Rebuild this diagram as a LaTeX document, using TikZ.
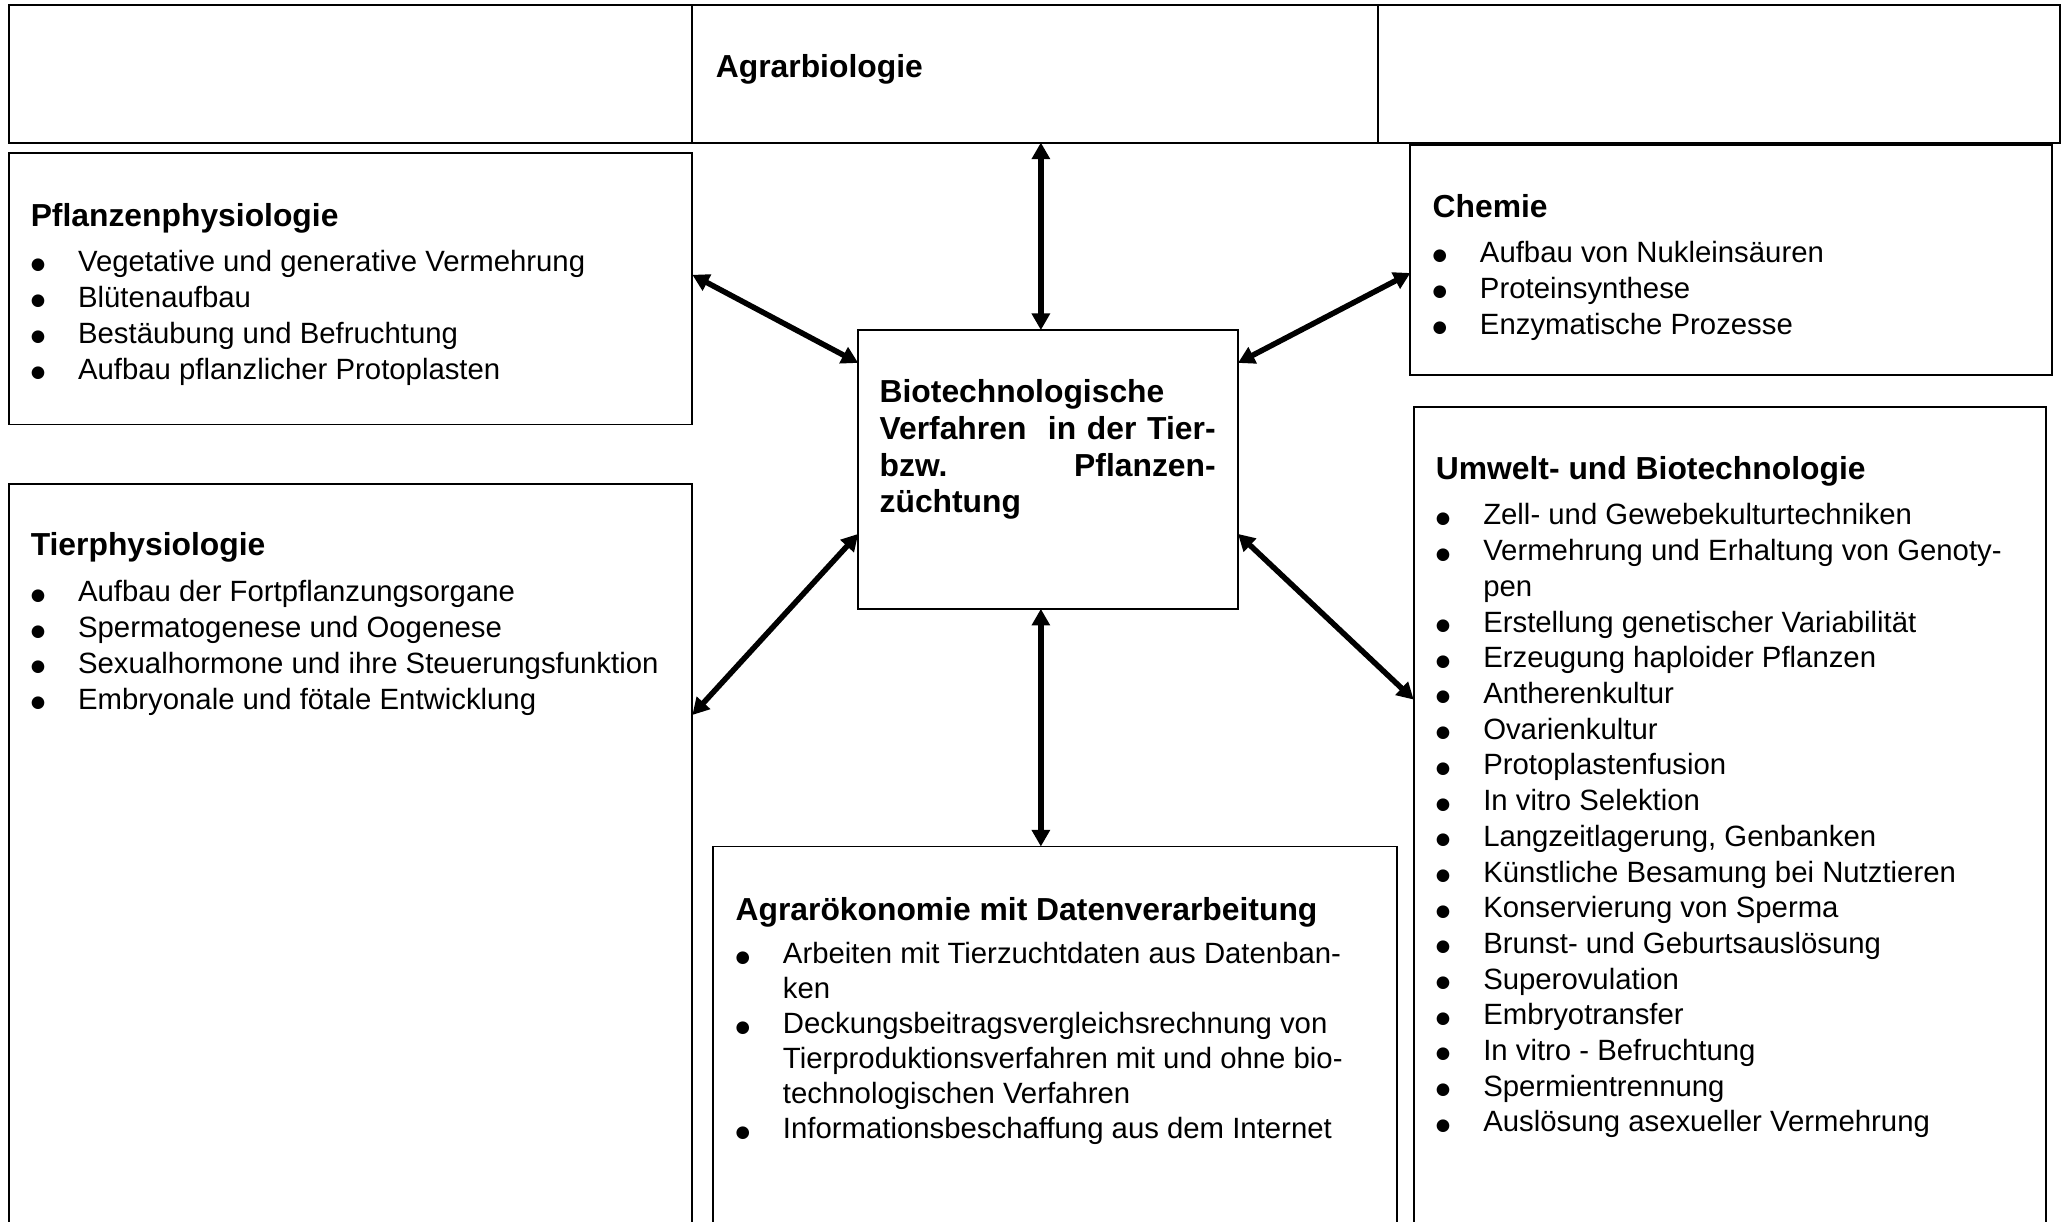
\documentclass[tikz,border=0pt]{standalone}
\usepackage{fontspec}
\setmainfont{Liberation Sans}
\newfontfamily\dotfont{DejaVu Sans}
\usetikzlibrary{arrows.meta}

\newcommand\bodyfont{\fontsize{11.15pt}{13.6pt}\selectfont}
\newcommand\headfont{\fontsize{12.1pt}{14pt}\selectfont\bfseries}
\newcommand\bul{\makebox[18pt][l]{\raisebox{0.6pt}{\dotfont\fontsize{6.3pt}{7pt}\selectfont ●}}}
\newcommand\cont{\hspace*{18pt}}
% box: name, left x, top y, width, height (all in picture units)
\newcommand\boxat[5]{\node[box, minimum width=#4*0.5pt, minimum height=#5*0.5pt] (#1) at (#2,#3) {};}

\tikzset{
  box/.style={draw, line width=0.75pt, inner sep=0pt, outer sep=0pt, anchor=north west},
  head/.style={anchor=base west, inner sep=0pt, font=\headfont},
  entry/.style={anchor=base west, inner sep=0pt, font=\bodyfont},
  link/.style={line width=2.1pt,
    {Triangle[length=6.3pt,width=6.7pt]}-{Triangle[length=6.3pt,width=6.7pt]}},
}

\begin{document}
\begin{tikzpicture}[x=0.5pt, y=-0.5pt]
\useasboundingbox (0,0) rectangle (1568,929);
\clip (0,0) rectangle (1568,929);

% header row
\boxat{topL}{6.5}{3.8}{520}{104.6}
\boxat{mid}{526.5}{3.8}{521}{104.6}
\boxat{topR}{1047.5}{3.8}{519}{104.6}

% subject boxes
\boxat{pflanzen}{6.5}{116.5}{520}{206.3}
\boxat{chemie}{1072.5}{110.6}{488}{174.7}
\boxat{zentral}{652.6}{251}{288.8}{212}
\boxat{tier}{6.5}{368.3}{520}{600}
\boxat{agrar}{542.5}{643.7}{520}{400}
\boxat{umwelt}{1075}{309.4}{480.5}{700}

\begin{scope}[yshift=-0.6pt]
\node[head] (agrarbio) at (544,58) {Agrarbiologie};

% central topic
\node[head] (z1) at (668.5,305) {Biotechnologische};
\node[head] (z2) at (668.5,332.9) {\makebox[127.75pt][s]{Verfahren\ \ in der Tier-}};
\node[head] (z3) at (668.5,360.8) {\makebox[127.75pt][s]{bzw. Pflanzen-}};
\node[head] (z4) at (668.5,388.7) {züchtung};

% Pflanzenphysiologie
\node[head] (pfh) at (23,171) {Pflanzenphysiologie};
\foreach \t [count=\i from 0] in {
  {\bul Vegetative und generative Vermehrung},
  {\bul Blütenaufbau},
  {\bul Bestäubung und Befruchtung},
  {\bul Aufbau pflanzlicher Protoplasten}}
  \node[entry] (pf\i) at (23,{205+\i*27.4}) {\t};

% Chemie
\node[head] (chh) at (1089,164.5) {Chemie};
\foreach \t [count=\i from 0] in {
  {\bul Aufbau von Nukleinsäuren},
  {\bul Proteinsynthese},
  {\bul Enzymatische Prozesse}}
  \node[entry] (ch\i) at (1089,{198.4+\i*27.4}) {\t};

% Tierphysiologie
\node[head] (tih) at (23,421.5) {Tierphysiologie};
\foreach \t [count=\i from 0] in {
  {\bul Aufbau der Fortpflanzungsorgane},
  {\bul Spermatogenese und Oogenese},
  {\bul Sexualhormone und ihre Steuerungsfunktion},
  {\bul Embryonale und fötale Entwicklung}}
  \node[entry] (ti\i) at (23,{456.4+\i*27.3}) {\t};

% Umwelt- und Biotechnologie
\node[head] (umh) at (1091.5,363.5) {Umwelt- und Biotechnologie};
\foreach \t [count=\i from 0] in {
  {\bul Zell- und Gewebekulturtechniken},
  {\bul Vermehrung und Erhaltung von Genoty-},
  {\cont pen},
  {\bul Erstellung genetischer Variabilität},
  {\bul Erzeugung haploider Pflanzen},
  {\bul Antherenkultur},
  {\bul Ovarienkultur},
  {\bul Protoplastenfusion},
  {\bul In vitro Selektion},
  {\bul Langzeitlagerung, Genbanken},
  {\bul Künstliche Besamung bei Nutztieren},
  {\bul Konservierung von Sperma},
  {\bul Brunst- und Geburtsauslösung},
  {\bul Superovulation},
  {\bul Embryotransfer},
  {\bul In vitro - Befruchtung},
  {\bul Spermientrennung},
  {\bul Auslösung asexueller Vermehrung}}
  \node[entry] (um\i) at (1091.5,{398+\i*27.15}) {\t};

% Agrarökonomie
\node[head] (agh) at (559,698.5) {Agrarökonomie mit Datenverarbeitung};
\foreach \t [count=\i from 0] in {
  {\bul Arbeiten mit Tierzuchtdaten aus Datenban-},
  {\cont ken},
  {\bul Deckungsbeitragsvergleichsrechnung von},
  {\cont Tierproduktionsverfahren mit und ohne bio-},
  {\cont technologischen Verfahren},
  {\bul Informationsbeschaffung aus dem Internet}}
  \node[entry] (ag\i) at (559,{731.7+\i*26.6}) {\t};
\end{scope}

% connectors
\coordinate (ax) at (791.5,0);
\coordinate (yPf) at (0,209);
\coordinate (yCh) at (0,207.6);
\coordinate (yUp) at (0,276);
\coordinate (yLo) at (0,406);
\coordinate (yTi) at (0,543.7);
\coordinate (yUm) at (0,532);
\draw[link] (mid.south -| ax) -- (zentral.north -| ax);
\draw[link] (zentral.south -| ax) -- (agrar.north -| ax);
\draw[link] (pflanzen.east |- yPf) -- (zentral.west |- yUp);
\draw[link] (chemie.west |- yCh) -- (zentral.east |- yUp);
\draw[link] (tier.east |- yTi) -- (zentral.west |- yLo);
\draw[link] (umwelt.west |- yUm) -- (zentral.east |- yLo);
\end{tikzpicture}
\end{document}
